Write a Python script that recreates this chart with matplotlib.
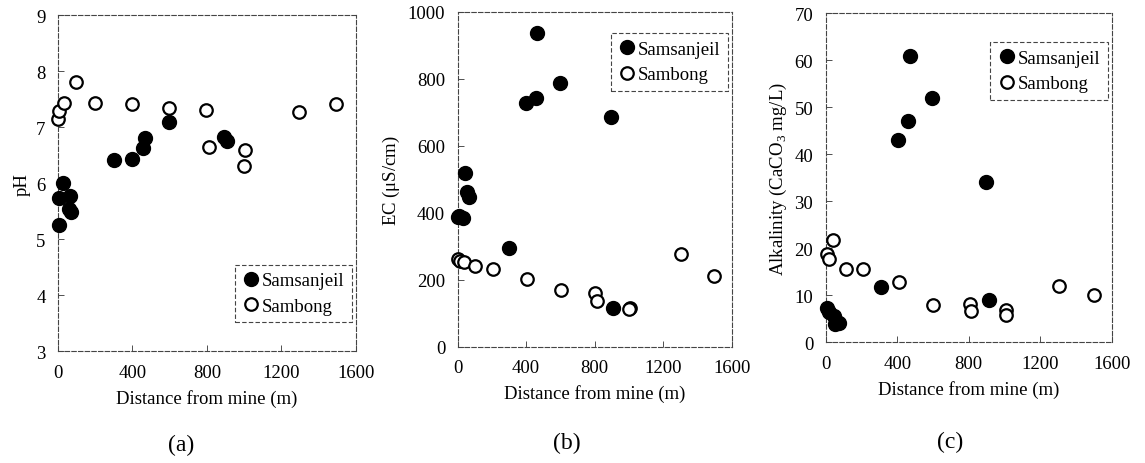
import matplotlib
matplotlib.use('Agg')
import matplotlib.pyplot as plt

plt.rcParams['font.family'] = ['Liberation Serif', 'DejaVu Serif']
plt.rcParams['mathtext.fontset'] = 'custom'
plt.rcParams['mathtext.rm'] = 'Liberation Serif'

# (a) pH
ph_sam_x = [7, 3, 25, 66, 60, 72, 301, 398, 455, 468, 595, 893, 909]
ph_sam_y = [5.26, 5.74, 6.0, 5.77, 5.54, 5.48, 6.41, 6.43, 6.62, 6.80, 7.09, 6.83, 6.75]
ph_bong_x = [0, 7, 30, 97, 200, 398, 596, 796, 809, 1005, 999, 1293, 1492]
ph_bong_y = [7.14, 7.29, 7.43, 7.81, 7.44, 7.42, 7.35, 7.30, 6.65, 6.60, 6.31, 7.27, 7.41]

# (b) EC
ec_sam_x = [465, 598, 397, 455, 893, 41, 53, 68, 4, 33, 10, 300, 905]
ec_sam_y = [936, 787, 726, 742, 687, 517, 463, 446, 386, 383, 390, 296, 115]
ec_bong_x = [4, 14, 39, 101, 208, 403, 603, 802, 812, 1006, 1002, 1302, 1499]
ec_bong_y = [262, 257, 252, 242, 232, 202, 169, 159, 137, 114, 112, 277, 212]

# (c) Alkalinity
al_sam_x = [471, 595, 458, 402, 899, 912, 307, 5, 20, 45, 60, 75, 55]
al_sam_y = [60.9, 51.9, 47.0, 43.0, 34.1, 9.0, 11.7, 7.2, 6.5, 5.5, 4.5, 4.2, 3.8]
al_bong_x = [39, 6, 19, 112, 210, 411, 601, 806, 813, 1010, 1006, 1302, 1500]
al_bong_y = [21.8, 18.8, 17.7, 15.7, 15.7, 12.8, 8.0, 8.1, 6.6, 6.9, 5.9, 11.9, 10.1]

fig = plt.figure(figsize=(11.45, 4.64), dpi=100)

panels = [
    # rect, data, ylim, yticks, ylabel, legend loc + anchor, letter pos
    ([0.0507, 0.241, 0.260, 0.724], ph_sam_x, ph_sam_y, ph_bong_x, ph_bong_y,
     (3, 9), range(3, 10), 'pH', 'lower right', (0.987, 0.086), (0.158, 0.04), '(a)'),
    ([0.3997, 0.2507, 0.2393, 0.722], ec_sam_x, ec_sam_y, ec_bong_x, ec_bong_y,
     (0, 1000), range(0, 1001, 200), r'EC ($\mathrm{\mu}$S/cm)', 'upper right', (0.986, 0.936),
     (0.495, 0.045), '(b)'),
    ([0.7211, 0.260, 0.250, 0.7097], al_sam_x, al_sam_y, al_bong_x, al_bong_y,
     (0, 70), range(0, 71, 10), r'Alkalinity (CaCO$_3$ mg/L)', 'upper right', (0.985, 0.912),
     (0.830, 0.047), '(c)'),
]

for rect, sx, sy, bx, by, ylim, yticks, ylabel, loc, anchor, lpos, letter in panels:
    ax = fig.add_axes(rect)
    ax.plot(sx, sy, 'o', ms=10, color='black', mec='black', label='Samsanjeil', clip_on=False, zorder=3)
    ax.plot(bx, by, 'o', ms=9, mfc='white', mec='black', mew=1.6, label='Sambong', clip_on=False, zorder=3)
    ax.set_xlim(0, 1600)
    ax.set_ylim(*ylim)
    ax.set_xticks(range(0, 1601, 400))
    ax.set_yticks(list(yticks))
    ax.tick_params(direction='in', length=4, width=0.6, labelsize=13.5, pad=9,
                   top=False, right=False, colors='#333333', labelcolor='black')
    for sp in ax.spines.values():
        sp.set_linestyle((0, (4, 2)))
        sp.set_linewidth(0.8)
        sp.set_color('#444444')
    ax.set_xlabel('Distance from mine (m)', fontsize=13.5, labelpad=6)
    ax.set_ylabel(ylabel, fontsize=13.5, labelpad=4)
    leg = ax.legend(loc=loc, bbox_to_anchor=anchor, fontsize=13.5, handletextpad=0.05,
                    handlelength=1.0, borderpad=0.4, labelspacing=0.45, fancybox=False,
                    framealpha=1, borderaxespad=0)
    leg.get_frame().set_edgecolor('#444444')
    leg.get_frame().set_linestyle((0, (4, 2)))
    leg.get_frame().set_linewidth(0.8)
    fig.text(lpos[0], lpos[1], letter, fontsize=17, ha='center', va='center')

fig.savefig('out.png', dpi=100)
